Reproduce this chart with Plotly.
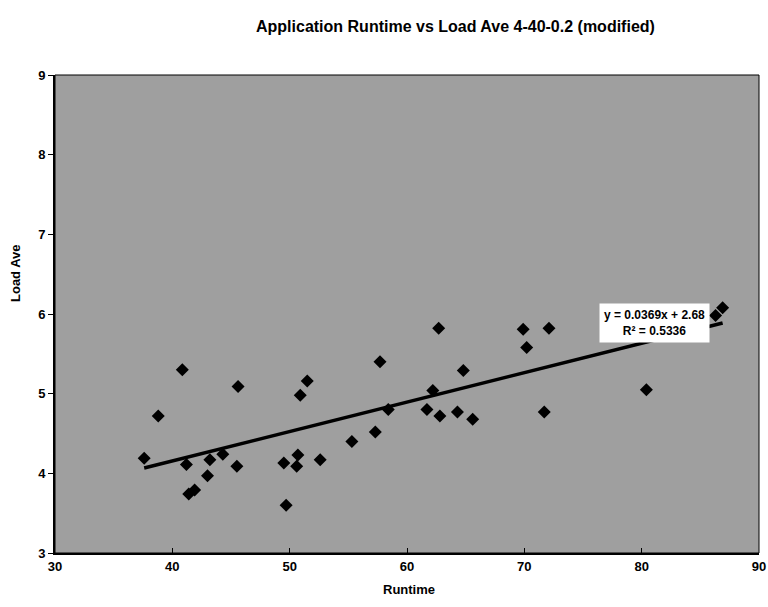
import plotly.graph_objects as go

# ---- data ----
runtime = [37.6, 38.8, 40.85, 41.2, 41.4, 41.9, 43.0, 43.2, 44.3, 45.5, 45.6,
           49.5, 49.7, 50.6, 50.7, 50.9, 51.5, 52.6, 55.3, 57.3, 57.7, 58.4,
           61.7, 62.2, 62.7, 62.8, 64.3, 64.8, 65.6, 69.9, 70.2, 71.7, 72.1,
           80.4, 86.3, 86.9]
load_ave = [4.19, 4.72, 5.30, 4.11, 3.74, 3.79, 3.97, 4.17, 4.24, 4.09, 5.09,
            4.13, 3.60, 4.09, 4.23, 4.98, 5.16, 4.17, 4.40, 4.52, 5.40, 4.80,
            4.80, 5.04, 5.82, 4.72, 4.77, 5.29, 4.68, 5.81, 5.58, 4.77, 5.82,
            5.05, 5.98, 6.08]

trend_slope = 0.0369
trend_intercept = 2.68
trend_label = ["y = 0.0369x + 2.68", "R² = 0.5336"]

x_ticks = [30, 40, 50, 60, 70, 80, 90]
y_ticks = [3, 4, 5, 6, 7, 8, 9]

title = "Application Runtime vs Load Ave 4-40-0.2 (modified)"
x_title = "Runtime"
y_title = "Load Ave"

FONT = "Liberation Sans, Arial, sans-serif"

trend_x = [min(runtime), max(runtime)]
trend_y = [trend_slope * v + trend_intercept for v in trend_x]

# full-window figure (page body margin removed in write_html post_script)
W, H = 768, 605
L, R, T, B = 55, 9, 75, 52
PW, PH = W - L - R, H - T - B


def px_to_paper_x(px):
    return (px - L) / PW


def px_to_paper_y(py):
    return (H - B - py) / PH


fig = go.Figure()
fig.add_trace(go.Scatter(
    x=trend_x, y=trend_y, mode="lines",
    line=dict(color="black", width=3.5), hoverinfo="skip", showlegend=False))
fig.add_trace(go.Scatter(
    x=runtime, y=load_ave, mode="markers",
    marker=dict(symbol="diamond", size=10, color="black"),
    showlegend=False))

fig.update_layout(
    width=W, height=H,
    margin=dict(l=L, r=R, t=T, b=B, autoexpand=False),
    paper_bgcolor="white", plot_bgcolor="#9f9f9f",
    font=dict(family=FONT, size=13, color="black"),
    showlegend=False,
)
tickfont = dict(family=FONT, size=13, color="black", weight="bold")
fig.update_xaxes(range=[x_ticks[0], x_ticks[-1]], tickvals=x_ticks,
                 showgrid=False, zeroline=False, automargin=False,
                 showline=True, linecolor="black", linewidth=2,
                 ticks="inside", ticklen=5, tickcolor="black",
                 ticklabeloverflow="allow",
                 tickfont=tickfont)
fig.update_yaxes(range=[y_ticks[0], y_ticks[-1]], tickvals=y_ticks,
                 showgrid=False, zeroline=False, automargin=False,
                 showline=True, linecolor="black", linewidth=2,
                 ticks="outside", ticklen=5, tickcolor="black",
                 tickfont=tickfont)

# thin border around plot area
fig.add_shape(type="rect", xref="paper", yref="paper", x0=0, y0=0, x1=1, y1=1,
              line=dict(color="black", width=1), layer="above")

# title and axis titles
fig.add_annotation(text="<b>" + title + "</b>", xref="paper", yref="paper",
                   x=px_to_paper_x(455), y=px_to_paper_y(27),
                   showarrow=False, font=dict(size=16, family=FONT),
                   xanchor="center", yanchor="middle")
fig.add_annotation(text="<b>" + x_title + "</b>", xref="paper", yref="paper",
                   x=px_to_paper_x(409), y=px_to_paper_y(589),
                   showarrow=False, font=dict(size=13, family=FONT),
                   xanchor="center", yanchor="middle")
fig.add_annotation(text="<b>" + y_title + "</b>", xref="paper", yref="paper",
                   x=px_to_paper_x(15), y=px_to_paper_y(273), textangle=-90,
                   showarrow=False, font=dict(size=13, family=FONT),
                   xanchor="center", yanchor="middle")

# trendline label box
fig.add_annotation(text="<b>" + trend_label[0] + "</b><br><b>" + trend_label[1] + "</b>",
                   xref="paper", yref="paper",
                   x=px_to_paper_x(654), y=px_to_paper_y(323),
                   showarrow=False, font=dict(size=12, family=FONT),
                   bgcolor="white", borderpad=4, align="center",
                   xanchor="center", yanchor="middle")

fig.write_html("out.html",
               config={"displayModeBar": False},
               post_script="document.body.style.margin='0';document.body.style.overflow='hidden';")
